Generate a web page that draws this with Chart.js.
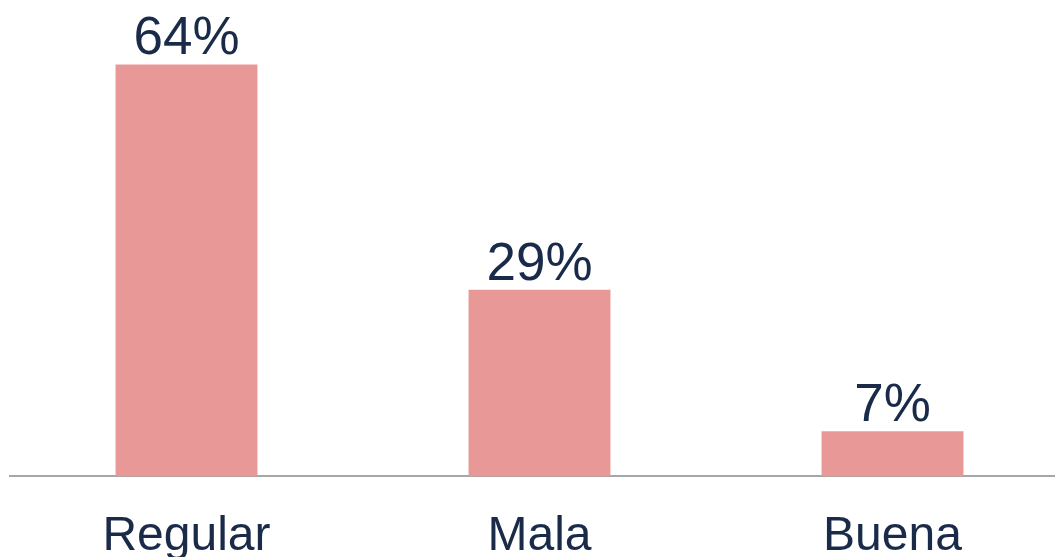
<!DOCTYPE html>
<html>
<head>
<meta charset="utf-8">
<script src="https://cdn.jsdelivr.net/npm/chart.js@4"></script>
<style>
	html, body { margin: 0; padding: 0; background: #fff; overflow: hidden; }
	.graphic { width: 1069px; height: 598px; }
</style>
</head>
<body>
<div class="graphic"><canvas class="graphic__canvas"></canvas></div>
<script>
const CATEGORIES = ['Regular', 'Mala', 'Buena'];
const VALUES = [64, 29, 7];
const LABELS = ['64%', '29%', '7%'];

const BAR_COLOR = '#E99898';
const TEXT_COLOR = '#1A2B4A';

//Подписи над столбцами
const valueLabels = {
	id: 'valueLabels',
	afterDatasetsDraw(chart) {
		let ctx = chart.ctx;
		let meta = chart.getDatasetMeta(0);
		ctx.save();
		ctx.font = '53px "Liberation Sans", Arial, sans-serif';
		ctx.fillStyle = TEXT_COLOR;
		ctx.textAlign = 'center';
		ctx.textBaseline = 'alphabetic';
		meta.data.forEach((bar, index) => {
			ctx.fillText(LABELS[index], bar.x, bar.y - 10);
		});
		ctx.restore();
	}
};

new Chart(document.querySelector('.graphic__canvas'), {
	type: 'bar',
	data: {
		labels: CATEGORIES,
		datasets: [{
			data: VALUES,
			backgroundColor: BAR_COLOR,
			categoryPercentage: 1,
			barPercentage: 0.402
		}]
	},
	options: {
		responsive: true,
		maintainAspectRatio: false,
		animation: false,
		layout: { padding: { left: 10, right: 0, top: 0, bottom: 0 } },
		plugins: {
			legend: { display: false },
			tooltip: { enabled: false }
		},
		scales: {
			x: {
				grid: { display: false, drawTicks: false },
				border: { display: true, color: '#A6A6A6', width: 2 },
				ticks: {
					color: TEXT_COLOR,
					padding: 32,
					font: { family: '"Liberation Sans", Arial, sans-serif', size: 48 }
				}
			},
			y: {
				display: false,
				min: 0,
				max: 74
			}
		}
	},
	plugins: [valueLabels]
});
</script>
</body>
</html>
